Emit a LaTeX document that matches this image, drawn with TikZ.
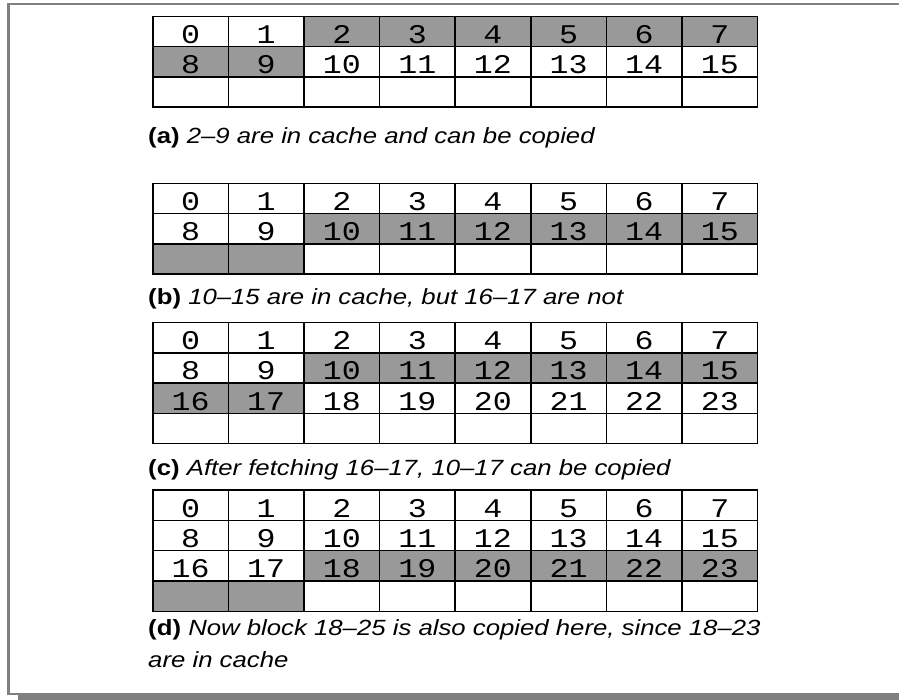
\documentclass[tikz,border=0pt]{standalone}
\usepackage{fontspec}
\usepackage{graphicx}
\setmainfont{Liberation Sans}
\newfontfamily\cellfont{Liberation Mono}
\usetikzlibrary{backgrounds}
\definecolor{cachegray}{RGB}{153,153,153}
\definecolor{framegray}{RGB}{128,128,128}

\begin{document}
\begin{tikzpicture}[
  x=1pt, y=-1pt,
  cell/.style={draw,line width=1.5pt,minimum width=75.6pt,minimum height=30.3pt,inner sep=0pt,
    text height=24pt,text depth=0pt,anchor=north west,font=\cellfont\fontsize{27}{27}\selectfont},
  caption/.style={anchor=base west,inner sep=0pt,xscale=1.17,transform shape,
    font=\fontsize{22}{32}\selectfont},
  frame/.style={framegray,line width=2.6pt}
]
\useasboundingbox (0,0) rectangle (899,699);

% four snapshots of the buffer: name/top/last row/last numbered row
\foreach \t/\top/\last/\numlast in {a/15.5/2/1, b/182.5/2/1, c/321.7/3/2, d/489.3/3/2}
  \foreach \r in {0,...,\last}
    \foreach \c in {0,...,7} {
      \pgfmathtruncatemacro\n{8*\r+\c}
      \node[cell] (\t-\r-\c) at (152+\c*75.6,\top+\r*30.3)
        {\ifnum\r>\numlast\else\scalebox{1.17}[1]{\n}\fi};
    }

% cached blocks
\begin{scope}[on background layer]
\fill[cachegray] (a-0-2.north west) rectangle (a-0-7.south east);
\fill[cachegray] (a-1-0.north west) rectangle (a-1-1.south east);
\fill[cachegray] (b-1-2.north west) rectangle (b-1-7.south east);
\fill[cachegray] (b-2-0.north west) rectangle (b-2-1.south east);
\fill[cachegray] (c-1-2.north west) rectangle (c-1-7.south east);
\fill[cachegray] (c-2-0.north west) rectangle (c-2-1.south east);
\fill[cachegray] (d-2-2.north west) rectangle (d-2-7.south east);
\fill[cachegray] (d-3-0.north west) rectangle (d-3-1.south east);
\end{scope}

\node[caption] (capa) at (148,143) {\textbf{(a)} \textit{2--9 are in cache and can be copied}};
\node[caption] (capb) at (148,304) {\textbf{(b)} \textit{10--15 are in cache, but 16--17 are not}};
\node[caption] (capc) at (148,475) {\textbf{(c)} \textit{After fetching 16--17, 10--17 can be copied}};
\node[caption] (capd) at (148,635) {\textbf{(d)} \textit{Now block 18--25 is also copied here, since 18--23}};
\node[caption] (capd2) at (148,667) {\textit{are in cache}};

% frame with shadow
\draw[frame] (905,4) -- (8.5,4) -- (8.5,694) -- (905,694);
\fill[framegray] (18,694) rectangle (899,699.5);
\end{tikzpicture}
\end{document}
